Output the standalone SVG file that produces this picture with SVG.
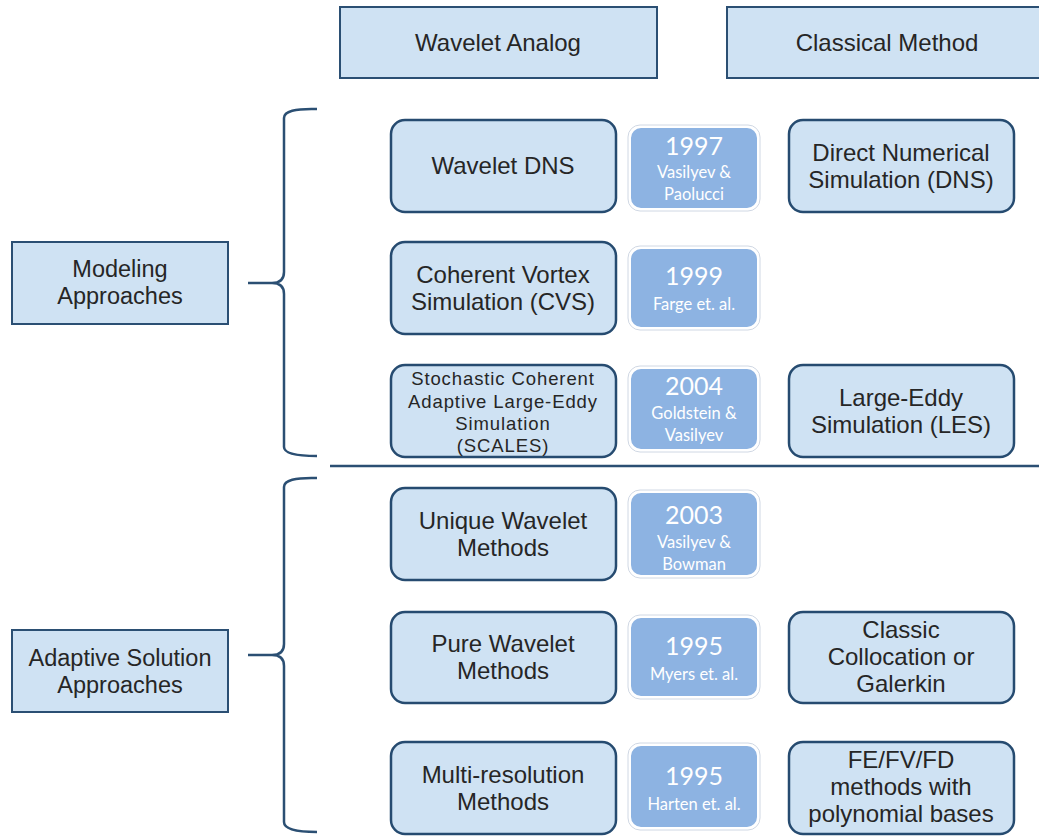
<svg xmlns="http://www.w3.org/2000/svg" width="1039" height="836" viewBox="0 0 1039 836">
<style>
.hdr{fill:#cfe2f3;stroke:#2b4f73;stroke-width:2}
.nd{fill:#cfe2f3;stroke:#264b70;stroke-width:2.5}
.yr{fill:#8db3e2;stroke:#ffffff;stroke-width:2}
.yrs{fill:none;stroke:#d0d8e4;stroke-width:1}
.t{font-family:"Liberation Sans",Arial,sans-serif;font-size:24px;fill:#262626;text-anchor:middle}
.tl{font-family:"Liberation Sans",Arial,sans-serif;font-size:23.5px;fill:#262626;text-anchor:middle}
.ts{font-family:"Liberation Sans",Arial,sans-serif;font-size:18.5px;letter-spacing:0.9px;fill:#262626;text-anchor:middle}
.y1{font-family:Lato,"Open Sans",sans-serif;font-size:25px;fill:#ffffff;text-anchor:middle}
.y2{font-family:Lato,"Open Sans",sans-serif;font-size:16.5px;fill:#ffffff;text-anchor:middle}
.br{fill:none;stroke:#2b4f73;stroke-width:2.5}
</style>
<rect width="1039" height="836" fill="#ffffff"/>
<g id="hdr-wavelet"><rect class="hdr" x="340" y="7" width="317" height="71"/><text class="t" x="498" y="51">Wavelet Analog</text></g>
<g id="hdr-classical"><rect class="hdr" x="727" y="7" width="320" height="71"/><text class="t" x="887" y="51">Classical Method</text></g>
<g id="modeling"><rect class="hdr" x="12" y="242" width="216" height="82"/><text class="tl" x="120" y="277">Modeling</text><text class="tl" x="120" y="304">Approaches</text></g>
<g id="adaptive"><rect class="hdr" x="12" y="630" width="216" height="82"/><text class="tl" x="120" y="666">Adaptive Solution</text><text class="tl" x="120" y="693">Approaches</text></g>
<g id="connectors">
<path class="br" d="M317,109 Q284,108 284,118 L284,272 Q284,283 272,283 L248,283 L272,283 Q284,283 284,294 L284,447 Q284,456 317,456"/>
<path class="br" d="M317,478 Q284,477 284,487 L284,644 Q284,655 272,655 L248,655 L272,655 Q284,655 284,666 L284,822 Q284,832 317,832"/>
<line x1="330" y1="466" x2="1039" y2="466" stroke="#2b4f73" stroke-width="2.5"/>
</g>
<g id="wdns"><rect class="nd" x="391" y="120" width="225" height="92" rx="14"/><text class="t" x="503" y="174">Wavelet DNS</text></g>
<g id="cvs"><rect class="nd" x="391" y="242" width="225" height="92" rx="14"/><text class="t" x="503" y="283">Coherent Vortex</text><text class="t" x="503" y="310">Simulation (CVS)</text></g>
<g id="scales"><rect class="nd" x="391" y="365" width="225" height="92" rx="14"/><text class="ts" x="503" y="385">Stochastic Coherent</text><text class="ts" x="503" y="408">Adaptive Large-Eddy</text><text class="ts" x="503" y="430">Simulation</text><text class="ts" x="503" y="452">(SCALES)</text></g>
<g id="unique"><rect class="nd" x="391" y="488" width="225" height="92" rx="14"/><text class="t" x="503" y="529">Unique Wavelet</text><text class="t" x="503" y="556">Methods</text></g>
<g id="pure"><rect class="nd" x="391" y="612" width="225" height="91" rx="14"/><text class="t" x="503" y="652">Pure Wavelet</text><text class="t" x="503" y="679">Methods</text></g>
<g id="multi"><rect class="nd" x="391" y="742" width="225" height="92" rx="14"/><text class="t" x="503" y="783">Multi-resolution</text><text class="t" x="503" y="810">Methods</text></g>
<g id="y1997"><rect class="yrs" x="628" y="125" width="132" height="86" rx="12"/><rect class="yr" x="630" y="127" width="128" height="82" rx="11"/><text class="y1" x="694" y="155">1997</text><text class="y2" x="694" y="178">Vasilyev &amp;</text><text class="y2" x="694" y="200">Paolucci</text></g>
<g id="y1999"><rect class="yrs" x="628" y="246" width="132" height="84" rx="12"/><rect class="yr" x="630" y="248" width="128" height="80" rx="11"/><text class="y1" x="694" y="285">1999</text><text class="y2" x="694" y="310">Farge et. al.</text></g>
<g id="y2004"><rect class="yrs" x="628" y="366" width="132" height="86" rx="12"/><rect class="yr" x="630" y="368" width="128" height="82" rx="11"/><text class="y1" x="694" y="395">2004</text><text class="y2" x="694" y="419">Goldstein &amp;</text><text class="y2" x="694" y="441">Vasilyev</text></g>
<g id="y2003"><rect class="yrs" x="628" y="490" width="132" height="88" rx="12"/><rect class="yr" x="630" y="492" width="128" height="84" rx="11"/><text class="y1" x="694" y="524">2003</text><text class="y2" x="694" y="548">Vasilyev &amp;</text><text class="y2" x="694" y="570">Bowman</text></g>
<g id="y1995a"><rect class="yrs" x="628" y="615" width="132" height="84" rx="12"/><rect class="yr" x="630" y="617" width="128" height="80" rx="11"/><text class="y1" x="694" y="655">1995</text><text class="y2" x="694" y="680">Myers et. al.</text></g>
<g id="y1995b"><rect class="yrs" x="628" y="743" width="132" height="87" rx="12"/><rect class="yr" x="630" y="745" width="128" height="83" rx="11"/><text class="y1" x="694" y="785">1995</text><text class="y2" x="694" y="810">Harten et. al.</text></g>
<g id="cdns"><rect class="nd" x="789" y="120" width="225" height="92" rx="14"/><text class="t" x="901" y="161">Direct Numerical</text><text class="t" x="901" y="188">Simulation (DNS)</text></g>
<g id="les"><rect class="nd" x="789" y="365" width="225" height="92" rx="14"/><text class="t" x="901" y="406">Large-Eddy</text><text class="t" x="901" y="433">Simulation (LES)</text></g>
<g id="colloc"><rect class="nd" x="789" y="612" width="225" height="91" rx="14"/><text class="t" x="901" y="638">Classic</text><text class="t" x="901" y="665">Collocation or</text><text class="t" x="901" y="692">Galerkin</text></g>
<g id="fefv"><rect class="nd" x="789" y="742" width="225" height="92" rx="14"/><text class="t" x="901" y="768">FE/FV/FD</text><text class="t" x="901" y="795">methods with</text><text class="t" x="901" y="822">polynomial bases</text></g>
</svg>
